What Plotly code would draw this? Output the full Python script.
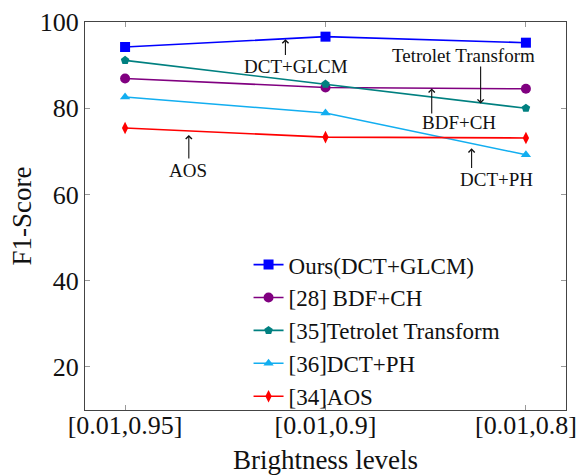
import plotly.graph_objects as go

categories = ["[0.01,0.95]", "[0.01,0.9]", "[0.01,0.8]"]
x_pos = [0, 1, 2]

ours = [94.2, 96.6, 95.2]
bdf_ch = [86.9, 84.8, 84.5]
tetrolet = [91.1, 85.6, 80.0]
dct_ph = [82.6, 78.9, 69.2]
aos = [75.4, 73.3, 73.1]

series_names = ["Ours(DCT+GLCM)", "[28] BDF+CH", "[35]Tetrolet Transform", "[36]DCT+PH", "[34]AOS"]
y_ticks = [20, 40, 60, 80, 100]

# annotation labels: text, text position, arrow x, arrow tail y, arrow tip y
note_texts = ["DCT+GLCM", "Tetrolet Transform", "BDF+CH", "AOS", "DCT+PH"]
note_text_x = [0.851, 1.691, 1.666, 0.316, 1.852]
note_text_y = [89.6, 92.3, 76.6, 65.6, 63.5]
arrow_x = [0.80, 1.774, 1.530, 0.318, 1.729]
arrow_from_y = [92.0, 90.0, 78.4, 68.0, 65.8]
arrow_to_y = [96.0, 81.1, 84.6, 73.8, 70.7]

FONT = "Liberation Serif, Times New Roman, serif"

styles = [
    dict(color="#0000ff", symbol="square", size=10),
    dict(color="#800080", symbol="circle", size=10),
    dict(color="#008080", symbol="pentagon", size=9),
    dict(color="#12aef0", symbol="triangle-up", size=9),
    dict(color="#ff0000", symbol="diamond-tall", size=9),
]

fig = go.Figure()
for name, vals, st in zip(series_names, [ours, bdf_ch, tetrolet, dct_ph, aos], styles):
    fig.add_trace(go.Scatter(
        x=x_pos, y=vals, name=name, mode="lines+markers",
        line=dict(color=st["color"], width=1.6),
        marker=dict(color=st["color"], symbol=st["symbol"], size=st["size"], line=dict(width=0)),
    ))

for txt, tx, ty in zip(note_texts, note_text_x, note_text_y):
    fig.add_annotation(
        x=tx, y=ty, xref="x", yref="y", text=txt, showarrow=False,
        font=dict(family=FONT, size=19, color="#111111"),
    )
for axx, y0, y1 in zip(arrow_x, arrow_from_y, arrow_to_y):
    fig.add_annotation(
        x=axx, y=y1, ax=axx, ay=y0, xref="x", yref="y", axref="x", ayref="y",
        text="", showarrow=True, arrowhead=4, arrowsize=1.1, arrowwidth=1.1,
        arrowcolor="#111111",
    )

fig.update_layout(
    width=580, height=475,
    margin=dict(l=85, r=14, t=22, b=65),
    paper_bgcolor="white", plot_bgcolor="white",
    font=dict(family=FONT, size=26, color="#111111"),
    showlegend=True,
    legend=dict(
        x=0.34, y=0.43, xanchor="left", yanchor="top",
        bgcolor="rgba(255,255,255,0)", borderwidth=0,
        font=dict(family=FONT, size=23, color="#111111"),
        itemwidth=30, tracegroupgap=0,
    ),
)
fig.update_xaxes(
    range=[-0.2, 2.2], tickmode="array", tickvals=x_pos, ticktext=categories,
    ticks="inside", ticklen=5, tickcolor="#999999", mirror="allticks",
    showline=True, linecolor="#444444", linewidth=1, showgrid=False, zeroline=False,
    automargin=False, ticklabelstandoff=-8,
    title=dict(text="Brightness levels", font=dict(family=FONT, size=27)),
    tickfont=dict(family=FONT, size=26),
)
fig.update_yaxes(
    range=[10, 100], tickmode="array", tickvals=y_ticks,
    ticks="inside", ticklen=5, tickcolor="#999999", mirror="allticks",
    showline=True, linecolor="#444444", linewidth=1, showgrid=False, zeroline=False,
    automargin=False,
    title=dict(text="F1-Score", font=dict(family=FONT, size=27), standoff=0),
    tickfont=dict(family=FONT, size=26),
)

# remove the default 8px page margin so the figure fills the window exactly
fig.write_html(
    "out.html",
    config={"displayModeBar": False},
    post_script="document.body.style.margin='0';",
)
